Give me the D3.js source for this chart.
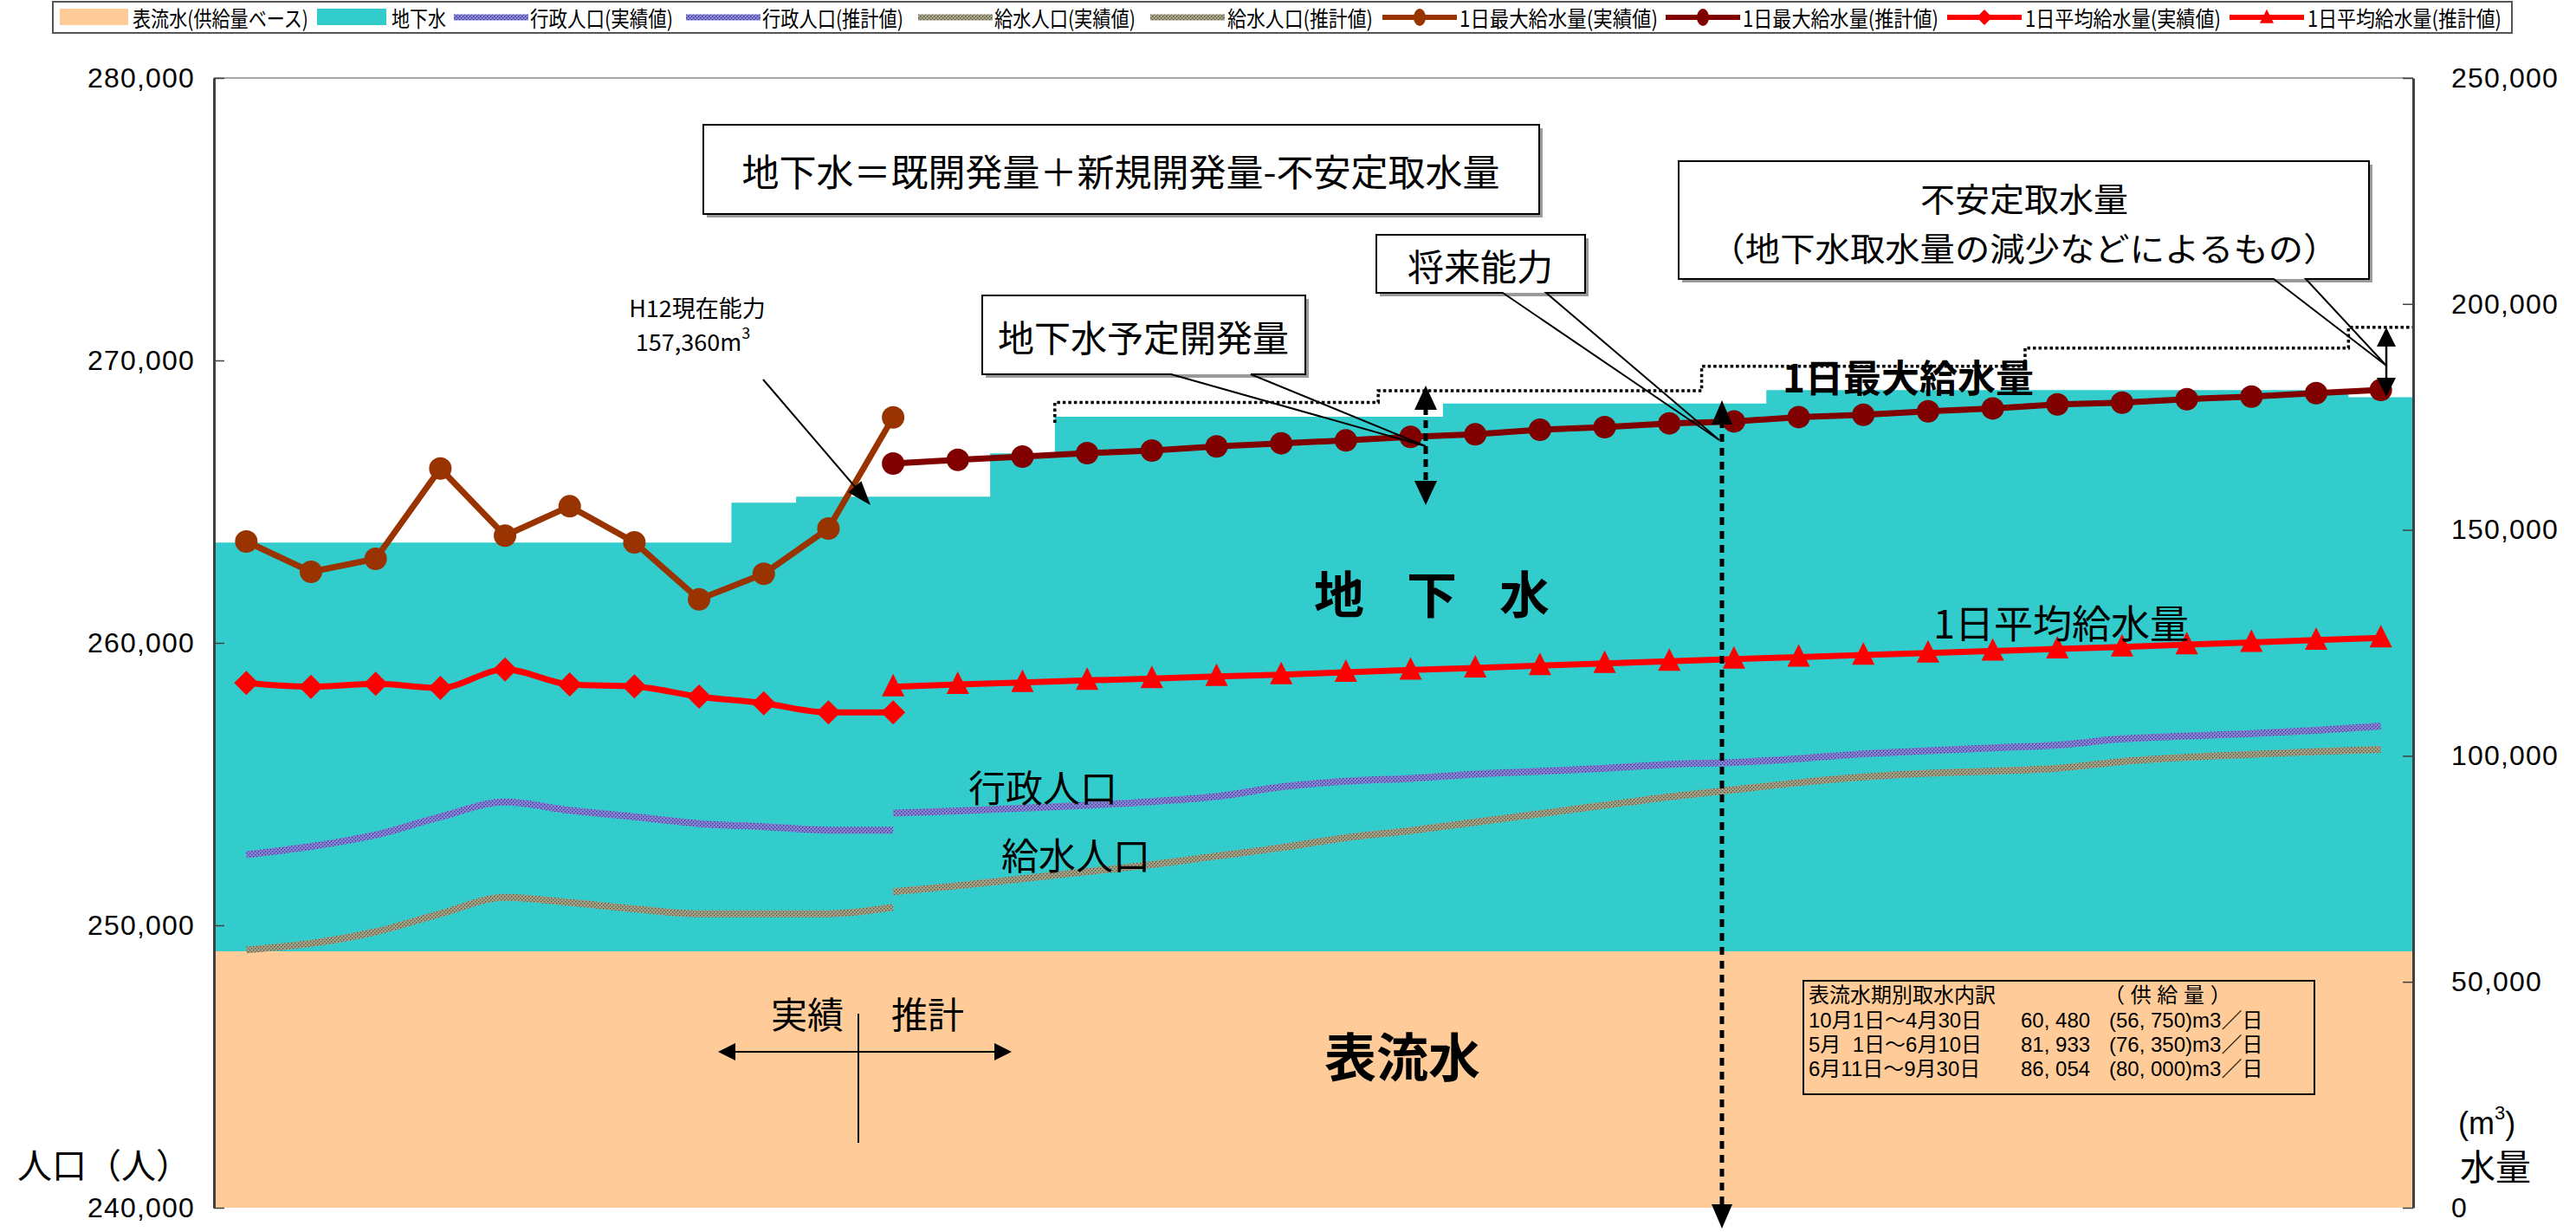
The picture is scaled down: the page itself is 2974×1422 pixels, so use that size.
<!DOCTYPE html>
<html><head><meta charset="utf-8">
<script src="https://cdn.jsdelivr.net/npm/d3@7"></script>
<style>body{margin:0;background:#fff}svg{display:block}</style>
</head><body><svg id="c" width="2974" height="1422"></svg>
<script>
// ---------- data ----------
const years = ["H2","H3","H4","H5","H6","H7","H8","H9","H10","H11","H12","H13","H14","H15","H16","H17","H18","H19","H20","H21","H22","H23","H24","H25","H26","H27","H28","H29","H30","H31","H32","H33","H34","H35"];
const actualYears = ["H2","H3","H4","H5","H6","H7","H8","H9","H10","H11","H12"];
const planYears = ["H12","H13","H14","H15","H16","H17","H18","H19","H20","H21","H22","H23","H24","H25","H26","H27","H28","H29","H30","H31","H32","H33","H34","H35"];
const futureYears = ["H15","H16","H17","H18","H19","H20","H21","H22","H23","H24","H25","H26","H27","H28","H29","H30","H31","H32","H33","H34","H35"];

const adminPopActual = [252500,252790,253200,253840,254360,254070,253840,253600,253490,253370,253370];
const adminPopPlan = [253970,254050,254150,254250,254380,254560,254900,255100,255200,255350,255450,255560,255700,255770,255900,256070,256180,256280,256380,256600,256700,256790,256900,257050];
const servedPopActual = [249130,249360,249770,250410,250990,250810,250580,250410,250410,250410,250640];
const servedPopPlan = [251190,251400,251650,251900,252150,252450,252750,253100,253350,253650,253950,254250,254550,254800,255050,255250,255380,255460,255560,255800,255950,256050,256150,256230];
const maxSupplyActual = [147430,140720,143600,163590,148720,155230,147240,134640,140280,150310,174900];
const maxSupplyPlan = [164690,165510,166220,166990,167560,168460,169160,169800,170570,171140,172160,172740,173570,174000,174960,175470,176240,176880,177780,178160,178930,179500,180270,180980];
const avgSupplyActual = [116120,115280,115930,115030,119120,115800,115360,113110,111640,109600,109600];
const avgSupplyPlan = [115280,115800,116240,116700,117080,117580,117970,118480,118990,119440,119960,120460,120920,121400,121850,122300,122750,123200,123650,124100,124600,125100,125600,126100];
const surfaceWater = [56750,56750,56750,56750,56750,56750,56750,56750,56750,56750,56750,56750,56750,56750,56750,56750,56750,56750,56750,56750,56750,56750,56750,56750,56750,56750,56750,56750,56750,56750,56750,56750,56750,56750];
const groundWater = [90450,90450,90450,90450,90450,90450,90450,90450,99250,100610,100610,100610,110200,118300,118300,118300,118300,118300,118300,121200,121200,121200,121200,121200,124200,124200,124200,124200,124200,124200,124200,124200,124200,122600];
const futureCapacity = [178200,178200,178200,178200,178200,180800,180800,180800,180800,180800,186200,186200,186200,186200,186200,190250,190250,190250,190250,190250,194850];

const leftTicks = [240000,250000,260000,270000,280000];
const rightTicks = [0,50000,100000,150000,200000,250000];
const tableRows = [
  ["表流水期別取水内訳","","（ 供 給 量 ）"],
  ["10月1日～4月30日","60, 480","(56, 750)m3／日"],
  ["5月  1日～6月10日","81, 933","(76, 350)m3／日"],
  ["6月11日～9月30日","86, 054","(80, 000)m3／日"]
];
const legendItems = [
  {label:"表流水(供給量ベース)", type:"rect", color:"#FFCC99"},
  {label:"地下水", type:"rect", color:"#33CCCC"},
  {label:"行政人口(実績値)", type:"tex", color:"url(#texAdmin)"},
  {label:"行政人口(推計値)", type:"tex", color:"url(#texAdmin)"},
  {label:"給水人口(実績値)", type:"tex", color:"url(#texServed)"},
  {label:"給水人口(推計値)", type:"tex", color:"url(#texServed)"},
  {label:"1日最大給水量(実績値)", type:"circle", color:"#993300"},
  {label:"1日最大給水量(推計値)", type:"circle", color:"#800000"},
  {label:"1日平均給水量(実績値)", type:"diamond", color:"#FF0000"},
  {label:"1日平均給水量(推計値)", type:"triangle", color:"#FF0000"}
];

// ---------- layout ----------
const PL=247, PR=2786, PT=90, PB=1394;
const FONT = "'Noto Sans CJK JP','Noto Sans',sans-serif";
const NUMFONT = "'Liberation Sans','Noto Sans CJK JP',sans-serif";

const svg = d3.select("#c");
const defs = svg.append("defs");
function texPattern(id, base, dot){
  const p = defs.append("pattern").attr("id",id).attr("patternUnits","userSpaceOnUse").attr("width",4).attr("height",4);
  p.append("rect").attr("width",4).attr("height",4).attr("fill",base);
  p.append("rect").attr("x",0).attr("y",0).attr("width",1.4).attr("height",1.4).attr("fill",dot);
  p.append("rect").attr("x",2).attr("y",2).attr("width",1.4).attr("height",1.4).attr("fill",dot);
}
texPattern("texAdmin","#8A86D4","#34349A");
texPattern("texServed","#A6A388","#56543F");

const x = d3.scaleBand().domain(years).range([PL,PR]);
const bw = x.bandwidth();
const cx = yr => x(yr) + bw/2;
const yL = d3.scaleLinear().domain([240000,280000]).range([PB,PT]);
const yR = d3.scaleLinear().domain([0,250000]).range([PB,PT]);

const g = svg.append("g");

// ---------- areas ----------
const stepPts = years.flatMap((yr,i)=>[
  {x:x(yr), s:surfaceWater[i], gw:groundWater[i]},
  {x:x(yr)+bw, s:surfaceWater[i], gw:groundWater[i]}
]);
g.append("path").attr("d", d3.area().x(d=>d.x).y0(yR(0)).y1(d=>yR(d.s))(stepPts)).attr("fill","#FFCC99");
g.append("path").attr("d", d3.area().x(d=>d.x).y0(d=>yR(d.s)).y1(d=>yR(d.s+d.gw))(stepPts)).attr("fill","#33CCCC");

// frame top
g.append("line").attr("x1",PL).attr("x2",PR).attr("y1",PT).attr("y2",PT).attr("stroke","#888").attr("stroke-width",1.5);

// future capacity dotted step line
const i15 = years.indexOf("H15");
const futPts = [{x:x("H15"), y:yR(surfaceWater[i15]+groundWater[i15])+7}].concat(
  futureYears.flatMap((yr,i)=>[{x:x(yr), y:yR(futureCapacity[i])},{x:x(yr)+bw, y:yR(futureCapacity[i])}]));
g.append("path").attr("d", d3.line().x(d=>d.x).y(d=>d.y)(futPts))
  .attr("fill","none").attr("stroke","#000").attr("stroke-width",3.5).attr("stroke-dasharray","3.5,3");

// ---------- lines ----------
const mk = (yrs, vals) => yrs.map((yr,i)=>({yr, v:vals[i]}));
const lineL = d3.line().x(d=>cx(d.yr)).y(d=>yL(d.v)).curve(d3.curveMonotoneX);
const lineR = d3.line().x(d=>cx(d.yr)).y(d=>yR(d.v));
const lineRs = d3.line().x(d=>cx(d.yr)).y(d=>yR(d.v)).curve(d3.curveMonotoneX);

function popLine(data, tex){
  g.append("path").attr("d", lineL(data)).attr("fill","none")
    .attr("stroke",tex).attr("stroke-width",8).attr("stroke-linejoin","round");
}
popLine(mk(actualYears, adminPopActual), "url(#texAdmin)");
popLine(mk(planYears, adminPopPlan), "url(#texAdmin)");
popLine(mk(actualYears, servedPopActual), "url(#texServed)");
popLine(mk(planYears, servedPopPlan), "url(#texServed)");

const diamond = r => `M0,${-r}L${r},0L0,${r}L${-r},0Z`;
const triangle = r => `M0,${-r*1.15}L${r},${r*0.85}L${-r},${r*0.85}Z`;

// avg
const avgA = mk(actualYears, avgSupplyActual), avgP = mk(planYears, avgSupplyPlan);
g.append("path").attr("d", lineRs(avgA)).attr("fill","none").attr("stroke","#FF0000").attr("stroke-width",7);
g.append("path").attr("d", lineR(avgP)).attr("fill","none").attr("stroke","#FF0000").attr("stroke-width",7);
g.selectAll(".dia").data(avgA).join("path").attr("transform",d=>`translate(${cx(d.yr)},${yR(d.v)})`).attr("d",diamond(14)).attr("fill","#FF0000");
g.selectAll(".tri").data(avgP).join("path").attr("transform",d=>`translate(${cx(d.yr)},${yR(d.v)})`).attr("d",triangle(13)).attr("fill","#FF0000");

// max
const maxA = mk(actualYears, maxSupplyActual), maxP = mk(planYears, maxSupplyPlan);
g.append("path").attr("d", lineR(maxA)).attr("fill","none").attr("stroke","#993300").attr("stroke-width",7);
g.append("path").attr("d", lineR(maxP)).attr("fill","none").attr("stroke","#800000").attr("stroke-width",7);
g.selectAll(".cA").data(maxA).join("circle").attr("cx",d=>cx(d.yr)).attr("cy",d=>yR(d.v)).attr("r",13).attr("fill","#993300");
g.selectAll(".cP").data(maxP).join("circle").attr("cx",d=>cx(d.yr)).attr("cy",d=>yR(d.v)).attr("r",13).attr("fill","#800000");

// ---------- axes ----------
const axL = g.append("g").attr("transform",`translate(${PL},0)`)
  .call(d3.axisLeft(yL).tickValues(leftTicks).tickFormat(d3.format(",")).tickSizeInner(-12).tickSizeOuter(0).tickPadding(22));
const axR = g.append("g").attr("transform",`translate(${PR},0)`)
  .call(d3.axisRight(yR).tickValues(rightTicks).tickFormat(d3.format(",")).tickSizeInner(-12).tickSizeOuter(0).tickPadding(44));
[axL,axR].forEach(a=>{
  a.select(".domain").attr("stroke","#404040").attr("stroke-width",3);
  a.selectAll(".tick line").attr("stroke","#404040").attr("stroke-width",1.5);
  a.selectAll(".tick text").attr("font-family",NUMFONT).attr("font-size",32).attr("letter-spacing",1.2).attr("fill","#000");
});

// ---------- annotations ----------
const ann = svg.append("g");
function txt(px,py,s,o={}){
  return ann.append("text").attr("x",px).attr("y",py).attr("dominant-baseline","central")
    .attr("text-anchor",o.anchor||"middle").attr("font-size",o.size||42).attr("font-weight",o.weight||400)
    .attr("font-family",o.family||FONT).attr("fill","#000").text(s);
}
function head(tx,ty,ang,len=26,half=11){
  const a = ang*Math.PI/180, ux=Math.cos(a), uy=Math.sin(a);
  const bx=tx-ux*len, by=ty-uy*len;
  ann.append("path").attr("d",`M${tx},${ty}L${bx-uy*half},${by+ux*half}L${bx+uy*half},${by-ux*half}Z`).attr("fill","#000");
}
function callout(x0,y0,x1,y1,w){
  ann.append("rect").attr("x",x0+4).attr("y",y0+4).attr("width",x1-x0).attr("height",y1-y0).attr("fill","#9a9a9a");
  ann.append("rect").attr("x",x0).attr("y",y0).attr("width",x1-x0).attr("height",y1-y0).attr("fill","#fff");
  const p = w ? `M${w[0]},${y1}L${w[2]},${w[3]}L${w[1]},${y1}L${x1},${y1}L${x1},${y0}L${x0},${y0}L${x0},${y1}Z`
              : `M${x0},${y0}H${x1}V${y1}H${x0}Z`;
  ann.append("path").attr("d",p).attr("fill","none").attr("stroke","#000").attr("stroke-width",2);
}

// 将来能力 vertical dashed arrow
ann.append("line").attr("x1",1988).attr("x2",1988).attr("y1",485).attr("y2",1396).attr("stroke","#000").attr("stroke-width",5).attr("stroke-dasharray","9,7");
head(1988,462,-90,28,12); head(1988,1418,90,28,12);
// 地下水予定開発量 arrow
ann.append("line").attr("x1",1646).attr("x2",1646).attr("y1",470).attr("y2",558).attr("stroke","#000").attr("stroke-width",5).attr("stroke-dasharray","9,6");
head(1646,445,-90,28,13); head(1646,583,90,28,13);
// 不安定取水量 arrow
ann.append("line").attr("x1",2755).attr("x2",2755).attr("y1",395).attr("y2",442).attr("stroke","#000").attr("stroke-width",2.5);
head(2755,378,-90,22,11); head(2755,458,90,22,11);

callout(812,144,1777,247,null);
txt(1294,196,"地下水＝既開発量＋新規開発量-不安定取水量",{size:43});
callout(1134,341,1507,432,[1352,1444,1646,515]);
txt(1320,387,"地下水予定開発量",{size:42});
callout(1589,271,1830,338,[1735,1785,1985,508]);
txt(1709,305,"将来能力",{size:42});
callout(1938,186,2735,322,[2625,2662,2755,422]);
txt(2337,227,"不安定取水量",{size:38}).attr("textLength",240).attr("lengthAdjust","spacingAndGlyphs");
txt(2337,284,"（地下水取水量の減少などによるもの）",{size:38}).attr("textLength",725).attr("lengthAdjust","spacingAndGlyphs");

// H12 current capacity
txt(805,354,"H12現在能力",{size:27});
const t157 = txt(800,393,"157,360m",{size:27});
t157.append("tspan").attr("dy",-10).attr("font-size",18).text("3");
ann.append("line").attr("x1",881).attr("y1",438).attr("x2",995).attr("y2",571).attr("stroke","#000").attr("stroke-width",2);
head(1005,583,Math.atan2(583-438,1005-881)*180/Math.PI,28,10);

// labels
txt(1546,683,"地",{size:58,weight:700});
txt(1653,683,"下",{size:58,weight:700});
txt(1760,683,"水",{size:58,weight:700});
txt(1619,1216,"表流水",{size:60,weight:700});
txt(2058,434,"1日最大給水量",{size:44,weight:700,anchor:"start"});
txt(2232,717,"1日平均給水量",{size:45,anchor:"start"});
txt(1118,907,"行政人口",{size:43,anchor:"start"});
txt(1156,985,"給水人口",{size:43,anchor:"start"});

// 実績 / 推計
txt(932,1168,"実績",{size:42});
txt(1071,1168,"推計",{size:42});
ann.append("line").attr("x1",991).attr("x2",991).attr("y1",1170).attr("y2",1319).attr("stroke","#000").attr("stroke-width",2);
ann.append("line").attr("x1",845).attr("x2",1152).attr("y1",1214).attr("y2",1214).attr("stroke","#000").attr("stroke-width",2);
head(829,1214,180,20,10); head(1168,1214,0,20,10);

// table
ann.append("rect").attr("x",2082).attr("y",1132).attr("width",590).attr("height",131).attr("fill","none").attr("stroke","#000").attr("stroke-width",2);
const rowY = [1148,1177,1205,1233];
tableRows.forEach((r,i)=>{
  txt(2088,rowY[i],r[0],{size:24,anchor:"start",family:NUMFONT}).attr("xml:space","preserve");
  if(r[1]) txt(2333,rowY[i],r[1],{size:24,anchor:"start",family:NUMFONT}).attr("xml:space","preserve");
  txt(i===0?2429:2435,rowY[i],r[2],{size:24,anchor:"start",family:NUMFONT}).attr("xml:space","preserve");
});

// axis titles
txt(20,1343,"人口（人）",{size:40,anchor:"start"});
const mt = txt(2838,1296,"(m",{size:36,anchor:"start",family:NUMFONT});
mt.append("tspan").attr("dy",-12).attr("font-size",22).text("3");
mt.append("tspan").attr("dy",12).text(")");
txt(2840,1344,"水量",{size:41,anchor:"start"});

// ---------- legend ----------
const leg = svg.append("g");
leg.append("rect").attr("x",61).attr("y",2).attr("width",2839).attr("height",36).attr("fill","#fff").attr("stroke","#555").attr("stroke-width",2);
const legPos = [[69,148,153,203],[366,446,452,63],[524,610,612,165],[792,878,880,163],[1060,1146,1148,163],[1328,1414,1417,168],[1596,1682,1685,229],[1923,2009,2012,226],[2248,2334,2338,226],[2574,2660,2664,224]];
legendItems.forEach((it,i)=>{
  const [s0,s1,t0,tw] = legPos[i];
  const cy = 20;
  if(it.type==="rect") leg.append("rect").attr("x",s0).attr("y",10).attr("width",s1-s0).attr("height",19).attr("fill",it.color);
  else if(it.type==="tex") leg.append("line").attr("x1",s0).attr("x2",s1).attr("y1",cy).attr("y2",cy).attr("stroke",it.color).attr("stroke-width",7);
  else {
    leg.append("line").attr("x1",s0).attr("x2",s1).attr("y1",cy).attr("y2",cy).attr("stroke",it.color).attr("stroke-width",6);
    const m = (s0+s1)/2;
    if(it.type==="circle") leg.append("ellipse").attr("cx",m).attr("cy",cy).attr("rx",7).attr("ry",10).attr("fill",it.color);
    if(it.type==="diamond") leg.append("path").attr("transform",`translate(${m},${cy})`).attr("d",diamond(9)).attr("fill",it.color);
    if(it.type==="triangle") leg.append("path").attr("transform",`translate(${m},${cy})`).attr("d",triangle(8)).attr("fill",it.color);
  }
  leg.append("text").attr("x",t0).attr("y",cy).attr("dominant-baseline","central").attr("font-family",FONT)
    .attr("font-size",25).attr("textLength",tw).attr("lengthAdjust","spacingAndGlyphs").text(it.label);
});
</script></body></html>
